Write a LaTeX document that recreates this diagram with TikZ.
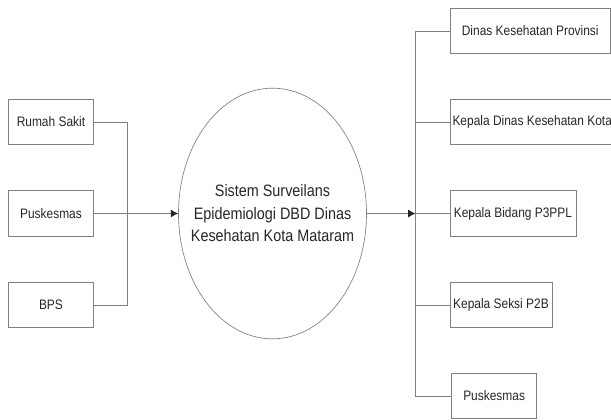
\documentclass[tikz,border=0pt]{standalone}
\usepackage{fontspec}
\setmainfont[FakeStretch=0.87]{Liberation Sans}
\usetikzlibrary{shapes.geometric,arrows.meta}
\definecolor{linegray}{gray}{0.5}
\definecolor{inkgray}{gray}{0.15}
\tikzset{
  x=0.75pt,y=-0.75pt,
  boxnode/.style={draw=linegray,line width=0.7pt,minimum height=34.2pt,inner sep=0pt,anchor=west,text=inkgray,font=\fontsize{10.3pt}{12pt}\selectfont},
  conn/.style={draw=linegray,line width=0.7pt},
  arrowconn/.style={conn,-{Latex[length=5.5pt,width=6pt,color=black!85]}}
}
\begin{document}
\begin{tikzpicture}
\useasboundingbox (0,0) rectangle (611,419);
\node[boxnode,minimum width=63.75pt] (r1) at (8,122) {Rumah Sakit};
\node[boxnode,minimum width=63.75pt] (r2) at (8,213.5) {Puskesmas};
\node[boxnode,minimum width=63.75pt] (r3) at (8,305) {BPS};
\node[draw=linegray,line width=0.5pt,ellipse,minimum width=141pt,minimum height=188pt,inner sep=0pt] (c) at (272.5,213.5) {};
\node[align=center,inner sep=0pt,text=inkgray,font=\fontsize{12.4pt}{16.9pt}\selectfont] (ct) at (c.center) {Sistem Surveilans\\Epidemiologi DBD Dinas\\Kesehatan Kota Mataram};
\node[boxnode,minimum width=120.4pt] (d1) at (449.5,31) {Dinas Kesehatan Provinsi};
\node[boxnode,minimum width=123.4pt] (d2) at (449.5,122) {Kepala Dinas Kesehatan Kota};
\node[boxnode,minimum width=94.5pt] (d3) at (449.5,213.5) {Kepala Bidang P3PPL};
\node[boxnode,minimum width=76.5pt] (d4) at (449.5,305) {Kepala Seksi P2B};
\node[boxnode,minimum width=64pt] (d5) at (451,396) {Puskesmas};
\coordinate (lb1) at (127.5,122);
\coordinate (lb3) at (127.5,305);
\coordinate (rb1) at (415.5,31);
\coordinate (rb2) at (415.5,122);
\coordinate (rb3) at (415.5,213.5);
\coordinate (rb4) at (415.5,305);
\coordinate (rb5) at (415.5,396);
\draw[conn] (r1.east) -- (lb1) -- (lb3) -- (r3.east);
\draw[arrowconn] (r2.east) -- (c.west);
\draw[conn] (d1.west) -- (rb1) -- (rb5) -- (d5.west);
\draw[conn] (d2.west) -- (rb2);
\draw[conn] (d3.west) -- (rb3);
\draw[conn] (d4.west) -- (rb4);
\draw[arrowconn] (c.east) -- (rb3);
\end{tikzpicture}
\end{document}
